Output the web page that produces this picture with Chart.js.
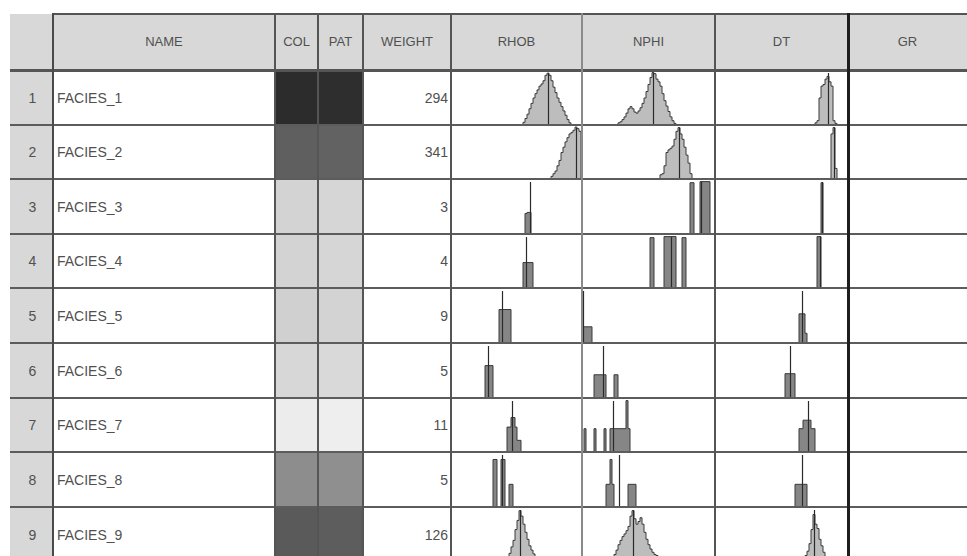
<!DOCTYPE html>
<html>
<head>
<meta charset="utf-8">
<script src="https://cdn.jsdelivr.net/npm/chart.js@4.4.1/dist/chart.umd.min.js"></script>
<style>
  html, body { margin: 0; padding: 0; background: #ffffff; }
  #wrap { position: relative; width: 967px; height: 556px; overflow: hidden; background: #fff;
          font-family: "Liberation Sans", Arial, sans-serif; color: #444; }
  .abs { position: absolute; }
  .txt { position: absolute; font-size: 14px; line-height: 16px; white-space: nowrap; color: #505050; }
  canvas.h { position: absolute; }
</style>
</head>
<body>
<div id="wrap"></div>
<script>
// ---------------- DATA ----------------
const headers = ['', 'NAME', 'COL', 'PAT', 'WEIGHT', 'RHOB', 'NPHI', 'DT', 'GR'];
const rowNumbers = ['1', '2', '3', '4', '5', '6', '7', '8', '9'];
const faciesNames = ['FACIES_1', 'FACIES_2', 'FACIES_3', 'FACIES_4', 'FACIES_5', 'FACIES_6', 'FACIES_7', 'FACIES_8', 'FACIES_9'];
const weights = [294, 341, 3, 4, 9, 5, 11, 5, 126];
const colShades = ['#2c2c2c', '#5f5f5f', '#d3d3d3', '#d3d3d3', '#d0d0d0', '#d7d7d7', '#ececec', '#8d8d8d', '#5a5a5a'];
const patShades = ['#2e2e2e', '#626262', '#d6d6d6', '#d6d6d6', '#d3d3d3', '#d9d9d9', '#eeeeee', '#8f8f8f', '#5d5d5d'];

// histogram bins (index of first non-empty bin) and relative counts (0-100)
const rhobStart = [36, 50, 37, 36, 24, 17, 28, 21, 28];
const rhobCounts = [
  [5,12,20,30,40,50,58,65,72,76,82,92,96,92,82,70,60,50,42,34,26,18,10,4],
  [5,10,15,25,35,50,60,70,78,85,88,92,98,95,90],
  [38,40,40],
  [48,48,48,48,48],
  [62,62,62,62,62,62],
  [60,60,60,60],
  [47,47,65,65,47,22,22],
  [88,88,0,0,88,88,0,0,42,42],
  [6,16,28,40,60,77,95,85,70,55,42,30,22,15,10,5]
];
const rhobMedian = [48, 62, 39, 37, 25, 18, 30, 25, 34];

const nphiStart = [18, 39, 54, 34, 0, 6, 1, 12, 15];
const nphiCounts = [
  [4,6,10,15,22,30,34,30,24,22,26,32,40,50,62,75,88,97,95,85,80,72,58,45,35,25,15,8,3],
  [8,10,25,50,55,58,62,75,90,97,85,75,60,45,30,10],
  [95,95,0,0,0,97,97,97,97,97],
  [95,95,0,0,0,0,0,97,97,97,97,97,97,0,0,0,95,95],
  [30,30,30,30,30],
  [43,43,43,43,43,43,0,0,0,0,43,43],
  [44,0,0,0,0,44,0,0,0,0,44,0,0,44,44,44,44,44,44,44,44,97,44],
  [42,42,88,42,0,0,0,0,0,0,0,42,42,42,42],
  [6,14,22,32,40,47,52,58,66,85,95,80,70,75,82,70,55,42,32,24,18,14,12,10,6]
];
const nphiMedian = [35, 48, 59, 44, 0, 10, 15, 18, 25];

const dtStart = [50, 58, 53, 51, 42, 35, 42, 40, 44];
const dtCounts = [
  [4,8,50,72,75,85,90,80,72,8,3],
  [85,97,20],
  [95],
  [97,97],
  [54,54,54,18],
  [45,45,45,45,45],
  [44,44,60,60,60,60,44,44],
  [42,42,42,42,42,42],
  [5,12,20,34,60,88,70,62,42,30,18,8]
];
const dtMedian = [56, 59, 53, 52, 43, 37, 46, 43, 49];

const NBINS = 66;
const binLabels = Array.from({ length: NBINS }, (_, i) => String(i));

// ---------------- LAYOUT ----------------
const colX = [10, 53, 275, 318, 363, 451, 582, 715, 848, 967];
const headTop = 14, headBottom = 70, rowH = 54.62;
const rowTop = i => Math.round(headBottom + i * rowH);

const wrap = document.getElementById('wrap');
function box(x, y, w, h, bg, z) {
  const d = document.createElement('div');
  d.className = 'abs';
  d.style.left = x + 'px'; d.style.top = y + 'px';
  d.style.width = w + 'px'; d.style.height = h + 'px';
  d.style.background = bg; d.style.zIndex = z || 1;
  wrap.appendChild(d);
  return d;
}
function text(str, x, y, align, size) {
  const d = document.createElement('div');
  d.className = 'txt';
  d.textContent = str;
  d.style.zIndex = 5;
  if (size) d.style.fontSize = size + 'px';
  d.style.top = (y - 8) + 'px';
  if (align === 'center') { d.style.left = (x - 100) + 'px'; d.style.width = '200px'; d.style.textAlign = 'center'; }
  else if (align === 'right') { d.style.left = (x - 200) + 'px'; d.style.width = '200px'; d.style.textAlign = 'right'; }
  else { d.style.left = x + 'px'; }
  wrap.appendChild(d);
}

// backgrounds
box(colX[0], headTop, colX[9] - colX[0], headBottom - headTop, '#d8d8d8');
box(colX[0], headBottom, colX[1] - colX[0], 556 - headBottom, '#d8d8d8');
for (let i = 0; i < 9; i++) {
  const t = rowTop(i), b = rowTop(i + 1);
  box(colX[2], t, colX[3] - colX[2], b - t, colShades[i]);
  box(colX[3], t, colX[4] - colX[3], b - t, patShades[i]);
}

// texts
for (let c = 1; c < headers.length; c++) {
  text(headers[c], (colX[c] + colX[c + 1]) / 2, 42, 'center', 13);
}
for (let i = 0; i < 9; i++) {
  const cy = (rowTop(i) + rowTop(i + 1)) / 2;
  text(rowNumbers[i], (colX[0] + colX[1]) / 2 + 1, cy, 'center');
  text(faciesNames[i], colX[1] + 4, cy, 'left');
  text(String(weights[i]), colX[5] - 3, cy, 'right');
}

// grid lines (on top of histograms)
box(colX[1], headTop - 1, colX[9] - colX[1], 2, '#555', 10);
box(colX[0], headBottom - 1, colX[9] - colX[0], 3, '#555', 10);
for (let i = 1; i <= 9; i++) box(colX[0], rowTop(i) - 1, colX[9] - colX[0], 2, '#5c5c5c', 10);
const vStyle = [null, ['#4a4a4a', 2], ['#555', 2], ['#555', 2], ['#555', 2], ['#555', 2], ['#8a8a8a', 2], ['#555', 2], ['#1e1e1e', 3]];
for (let c = 1; c <= 8; c++) {
  const [col, w] = vStyle[c];
  box(colX[c] - Math.floor(w / 2), headTop - 1, w, 556 - headTop + 1, col, 10);
}

// ---------------- HISTOGRAMS (Chart.js) ----------------
const medianLine = {
  id: 'medianLine',
  afterDatasetsDraw(chart, args, opts) {
    const x = Math.round(chart.scales.x.getPixelForValue(opts.bin)) + 0.5;
    const ctx = chart.ctx;
    ctx.save();
    ctx.strokeStyle = opts.color;
    ctx.lineWidth = 1.2;
    ctx.beginPath();
    ctx.moveTo(x, chart.chartArea.bottom);
    ctx.lineTo(x, chart.chartArea.top + 2);
    ctx.stroke();
    ctx.restore();
  }
};

function expand(start, counts) {
  const arr = new Array(NBINS).fill(0);
  counts.forEach((v, k) => { if (start + k < NBINS) arr[start + k] = v; });
  return arr;
}

const logs = [
  { start: rhobStart, counts: rhobCounts, median: rhobMedian, col: 5 },
  { start: nphiStart, counts: nphiCounts, median: nphiMedian, col: 6 },
  { start: dtStart, counts: dtCounts, median: dtMedian, col: 7 }
];

logs.forEach(log => {
  for (let i = 0; i < 9; i++) {
    const cv = document.createElement('canvas');
    cv.className = 'h';
    const t = rowTop(i) + 1, b = rowTop(i + 1);
    const w = NBINS * 2, h = b - t;
    cv.width = w; cv.height = h;
    cv.style.left = colX[log.col] + 'px';
    cv.style.top = t + 'px';
    cv.style.width = w + 'px'; cv.style.height = h + 'px';
    cv.style.zIndex = 3;
    wrap.appendChild(cv);
    const fillCol = weights[i] >= 100 ? '#bdbdbd' : '#868686';
    new Chart(cv, {
      type: 'line',
      data: {
        labels: binLabels,
        datasets: [{
          data: expand(log.start[i], log.counts[i]),
          stepped: 'middle',
          fill: 'origin',
          backgroundColor: fillCol,
          borderColor: '#3a3a3a',
          borderWidth: 1,
          pointRadius: 0
        }]
      },
      options: {
        responsive: false,
        animation: false,
        events: [],
        layout: { padding: 0 },
        plugins: {
          legend: { display: false },
          tooltip: { enabled: false },
          medianLine: { bin: log.median[i], color: '#2a2a2a' }
        },
        scales: {
          x: { display: false, offset: true },
          y: { display: false, min: 0, max: 100 }
        }
      },
      plugins: [medianLine]
    });
  }
});
</script>
</body>
</html>
